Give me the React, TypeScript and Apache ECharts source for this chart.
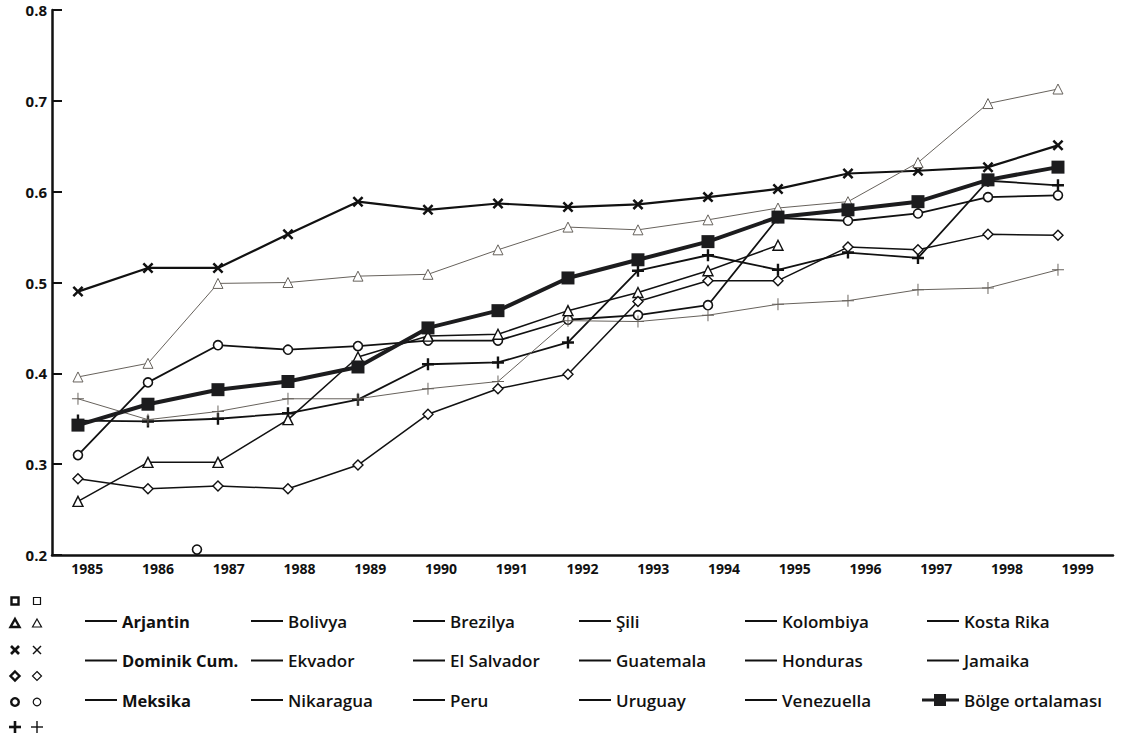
import React, { useEffect, useRef } from "react";
import * as echarts from "echarts";

const FONT = "'Open Sans', 'Noto Sans', sans-serif";

const years = [1985, 1986, 1987, 1988, 1989, 1990, 1991, 1992, 1993, 1994, 1995, 1996, 1997, 1998, 1999];
const yearLabels = years.map(String);
const yTicks = { min: 0.2, max: 0.8, interval: 0.1 };

// series values
const sili = [0.490, 0.516, 0.516, 0.553, 0.589, 0.580, 0.587, 0.583, 0.586, 0.594, 0.603, 0.620, 0.623, 0.627, 0.651];
const bolivya = [0.396, 0.411, 0.499, 0.500, 0.507, 0.509, 0.536, 0.561, 0.558, 0.569, 0.582, 0.589, 0.632, 0.697, 0.713];
const bolge = [0.343, 0.366, 0.382, 0.391, 0.407, 0.450, 0.469, 0.505, 0.525, 0.545, 0.572, 0.580, 0.589, 0.613, 0.627];
const meksika = [0.310, 0.390, 0.431, 0.426, 0.430, 0.436, 0.436, 0.459, 0.464, 0.475, 0.571, 0.568, 0.576, 0.594, 0.596];
const arjantin = [0.348, 0.347, 0.350, 0.356, 0.371, 0.410, 0.412, 0.434, 0.513, 0.530, 0.514, 0.533, 0.527, 0.612, 0.607];
const brezilya = [0.372, 0.349, 0.358, 0.372, 0.372, 0.383, 0.391, 0.458, 0.457, 0.464, 0.476, 0.480, 0.492, 0.494, 0.514];
const ekvador = [0.259, 0.302, 0.302, 0.349, 0.418, 0.441, 0.443, 0.469, 0.489, 0.513, 0.541];
const peru = [0.284, 0.273, 0.276, 0.273, 0.299, 0.355, 0.383, 0.399, 0.479, 0.502, 0.502, 0.539, 0.536, 0.553, 0.552];
const nikaraguaPoint = [1986.7, 0.206];

const emptyNames = ["Dominik Cum.", "El Salvador", "Kolombiya", "Kosta Rika", "Guatemala", "Honduras", "Jamaika", "Uruguay", "Venezuella"];

const legendCols = [
  ["Arjantin", "Dominik Cum.", "Meksika"],
  ["Bolivya", "Ekvador", "Nikaragua"],
  ["Brezilya", "El Salvador", "Peru"],
  ["Şili", "Guatemala", "Uruguay"],
  ["Kolombiya", "Honduras", "Venezuella"],
  ["Kosta Rika", "Jamaika"],
];
const avgName = "Bölge ortalaması";

const X_PATH = "path://M0,1.6 L1.6,0 L5,3.4 L8.4,0 L10,1.6 L6.6,5 L10,8.4 L8.4,10 L5,6.6 L1.6,10 L0,8.4 L3.4,5 Z";
const PLUS_BOLD = "path://M4,0 L6,0 L6,4 L10,4 L10,6 L6,6 L6,10 L4,10 L4,6 L0,6 L0,4 L4,4 Z";
const PLUS_THIN = "path://M4.6,0 L5.4,0 L5.4,4.6 L10,4.6 L10,5.4 L5.4,5.4 L5.4,10 L4.6,10 L4.6,5.4 L0,5.4 L0,4.6 L4.6,4.6 Z";
const AVG_ICON = "path://M0,4.5 L12,4.5 L12,0 L24,0 L24,4.5 L37,4.5 L37,7.5 L24,7.5 L24,12 L12,12 L12,7.5 L0,7.5 Z";

function pairs(vals: number[]) {
  return vals.map((v, i) => [years[i], v]);
}

function lineSeries(name: string, vals: number[], o: any) {
  return {
    type: "line",
    name,
    xAxisIndex: 1,
    data: pairs(vals),
    symbol: o.symbol,
    symbolSize: o.size,
    showSymbol: true,
    z: o.z || 2,
    lineStyle: { color: o.color, width: o.width },
    itemStyle: o.hollow
      ? { color: "#fff", borderColor: o.color, borderWidth: o.bw || 1.5 }
      : { color: o.color, borderWidth: 0 },
    emphasis: { disabled: true },
  };
}

export default function App() {
  const ref = useRef<HTMLDivElement>(null);
  useEffect(() => {
    if (!ref.current) return;
    const chart = echarts.init(ref.current, null, { renderer: "svg" });

    const K = "#111";
    const G = "#67625c";
    const series: any[] = [
      lineSeries("Şili", sili, { symbol: X_PATH, size: 11, color: K, width: 2.2 }),
      lineSeries("Bolivya", bolivya, { symbol: "triangle", size: 10, color: G, width: 1, hollow: true, bw: 1 }),
      lineSeries("Meksika", meksika, { symbol: "circle", size: 9, color: K, width: 1.8, hollow: true, bw: 1.6 }),
      lineSeries("Arjantin", arjantin, { symbol: PLUS_BOLD, size: 12, color: K, width: 1.8 }),
      lineSeries("Brezilya", brezilya, { symbol: PLUS_THIN, size: 12, color: G, width: 1 }),
      lineSeries("Ekvador", ekvador, { symbol: "triangle", size: 10, color: K, width: 1.5, hollow: true, bw: 1.4 }),
      lineSeries("Peru", peru, { symbol: "diamond", size: 10, color: K, width: 1.5, hollow: true, bw: 1.4 }),
      {
        type: "scatter",
        name: "Nikaragua",
        xAxisIndex: 1,
        data: [nikaraguaPoint],
        symbol: "circle",
        symbolSize: 9,
        itemStyle: { color: "#fff", borderColor: K, borderWidth: 1.6, opacity: 1 },
        emphasis: { disabled: true },
      },
      lineSeries(avgName, bolge, { symbol: "rect", size: 13, color: "#1c1c1e", width: 4, z: 5 }),
      ...emptyNames.map((n) => ({ type: "line", name: n, xAxisIndex: 1, data: [] })),
    ];

    const lefts = [85, 251, 413, 579, 745, 927];
    const legends: any[] = legendCols.map((names, i) => ({
      orient: "vertical",
      left: lefts[i],
      top: 611,
      padding: 0,
      itemGap: 19.5,
      itemWidth: 32,
      itemHeight: 2,
      icon: "rect",
      selectedMode: false,
      data: names,
      itemStyle: { color: K, borderWidth: 0, opacity: 1 },
      textStyle: {
        fontFamily: FONT,
        fontSize: i === 0 ? 16.5 : 17,
        fontWeight: i === 0 ? "bold" : 600,
        lineHeight: 20,
        color: K,
      },
    }));
    legends.push({
      orient: "vertical",
      left: 922,
      top: 690,
      padding: 0,
      itemWidth: 37,
      itemHeight: 12,
      icon: AVG_ICON,
      selectedMode: false,
      data: [avgName],
      itemStyle: { color: "#1c1c1e", borderWidth: 0, opacity: 1 },
      textStyle: { fontFamily: FONT, fontSize: 17, fontWeight: 600, lineHeight: 20, color: K },
    });

    const mk = (lw: number) => ({ fill: "#fff", stroke: K, lineWidth: lw });
    const graphics: any[] = [];
    [15, 37].forEach((cx, j) => {
      const lw = j === 0 ? 2.4 : 1.2;
      graphics.push({ type: "rect", shape: { x: cx - 3.5, y: 597.5, width: 7, height: 7 }, style: mk(lw) });
      graphics.push({ type: "polygon", shape: { points: [[cx, 619], [cx + 4.5, 627], [cx - 4.5, 627]] }, style: mk(lw) });
      graphics.push({ type: "line", shape: { x1: cx - 4, y1: 646, x2: cx + 4, y2: 654 }, style: { stroke: K, lineWidth: lw + 0.3 } });
      graphics.push({ type: "line", shape: { x1: cx + 4, y1: 646, x2: cx - 4, y2: 654 }, style: { stroke: K, lineWidth: lw + 0.3 } });
      graphics.push({ type: "polygon", shape: { points: [[cx, 671.5], [cx + 4.5, 676], [cx, 680.5], [cx - 4.5, 676]] }, style: mk(lw) });
      graphics.push({ type: "circle", shape: { cx, cy: 702, r: 3.8 }, style: mk(lw) });
      graphics.push({ type: "line", shape: { x1: cx - 6, y1: 727, x2: cx + 6, y2: 727 }, style: { stroke: K, lineWidth: lw + 0.2 } });
      graphics.push({ type: "line", shape: { x1: cx, y1: 721, x2: cx, y2: 733 }, style: { stroke: K, lineWidth: lw + 0.2 } });
    });

    chart.setOption({
      animation: false,
      backgroundColor: "#ffffff",
      textStyle: { fontFamily: FONT },
      grid: { left: 52, top: 10, right: 11, bottom: 187, containLabel: false },
      xAxis: [
        {
          type: "category",
          data: yearLabels,
          boundaryGap: true,
          axisLine: { lineStyle: { color: K, width: 2.5 } },
          axisTick: { inside: true, length: 12, interval: 0, lineStyle: { color: K, width: 2 } },
          axisLabel: { interval: 0, margin: 6, fontSize: 14, fontWeight: "bold", color: K, fontFamily: FONT },
          splitLine: { show: false },
        },
        { type: "value", min: 1984.629, max: 1999.786, show: false },
      ],
      yAxis: {
        type: "value",
        min: yTicks.min,
        max: yTicks.max,
        interval: yTicks.interval,
        axisLine: { show: true, lineStyle: { color: K, width: 2.5 } },
        axisTick: { show: true, inside: true, length: 10, lineStyle: { color: K, width: 2 } },
        axisLabel: {
          formatter: (v: number) => v.toFixed(1),
          fontSize: 15,
          fontWeight: "bold",
          color: K,
          margin: 5,
          fontFamily: FONT,
        },
        splitLine: { show: false },
      },
      legend: legends,
      graphic: graphics,
      series,
    });

    return () => chart.dispose();
  }, []);

  return <div ref={ref} style={{ position: "fixed", left: 0, top: 0, width: 1124, height: 742 }} />;
}
